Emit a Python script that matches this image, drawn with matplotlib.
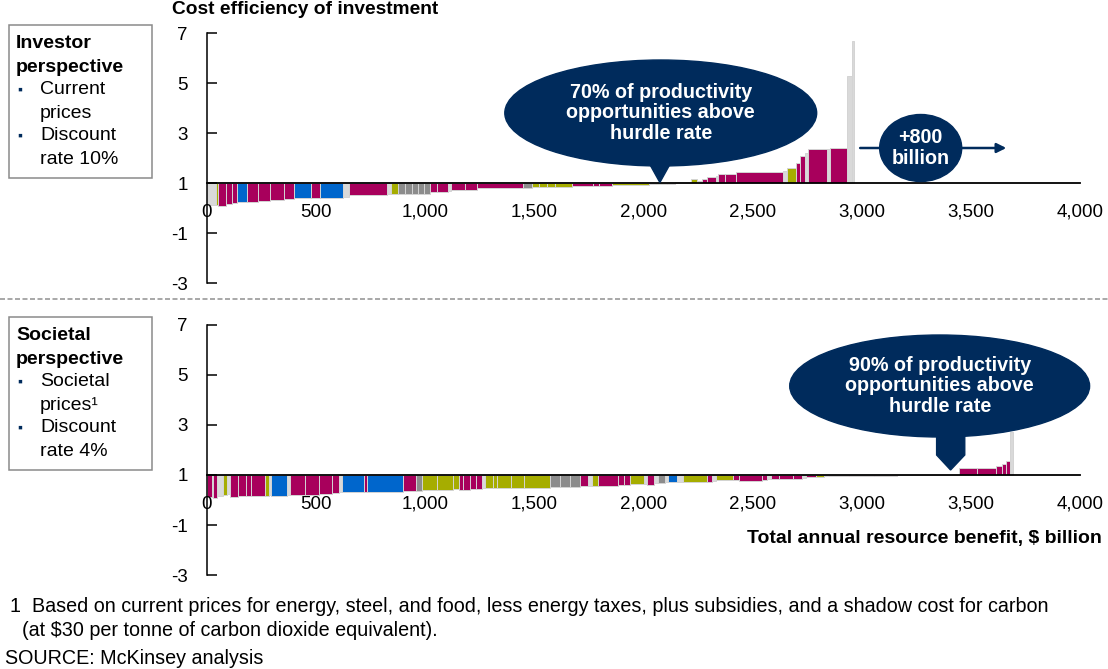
import numpy as np
import matplotlib
matplotlib.use("Agg")
import matplotlib.pyplot as plt
from matplotlib.patches import Ellipse, Polygon, Rectangle
from matplotlib.lines import Line2D

plt.rcParams['font.family'] = ['Liberation Sans', 'DejaVu Sans']

# colour codes: M magenta, B blue, O olive, G grey, L light grey, N none
COLS = {'M': '#A8005C', 'B': '#0066CC', 'O': '#A6AD00', 'G': '#8C8C8C',
        'L': '#D9D9D9', 'N': 'none'}

# ---- investor perspective ($ billion widths, cost efficiency values) ----
inv_width = [41, 9, 37, 27, 23, 46, 50, 55, 64, 46, 78, 41, 105, 27, 174, 18, 32,
             32, 32, 32, 27, 27, 32, 50, 14, 64, 55, 211, 41, 32, 37, 37, 78,
             96, 27, 60, 169, 32, 50, 37, 37, 37, 27, 23, 23, 41, 9, 32, 50,
             215, 18, 41, 18, 23, 14, 87, 14, 78, 23, 9]
inv_value = [0.12, 0.12, 0.10, 0.16, 0.20, 0.24, 0.24, 0.28, 0.32, 0.36, 0.40, 0.42,
             0.42, 0.45, 0.52, 0.55, 0.56, 0.56, 0.56, 0.56, 0.56, 0.56, 0.65, 0.65,
             0.70, 0.72, 0.72, 0.80, 0.80, 0.84, 0.84, 0.86, 0.86, 0.88, 0.88, 0.90,
             0.92, 0.95, 0.97, 0.98, 1.04, 1.06, 1.16, 1.10, 1.16, 1.25, 1.30, 1.37,
             1.37, 1.44, 1.50, 1.61, 1.81, 2.08, 2.20, 2.35, 2.38, 2.40, 5.3, 6.7]
inv_color = list("LOMMMBMMMMBMBLMLOGGGGGMMLMMMGOOOOMMMOMOMBOOLMMLMMMLOMMLMLMLL")

# ---- societal perspective ----
soc_width = [23, 5, 18, 27, 18, 14, 37, 37, 23, 64, 18, 9, 73, 14, 69, 64, 60, 32,
             14, 101, 14, 165, 60, 27, 69, 73, 27, 18, 32, 27, 27, 14, 37, 18, 64,
             60, 119, 46, 46, 46, 37, 18, 27, 92, 27, 27, 64, 14, 32, 18, 32, 14,
             41, 27, 110, 27, 18, 78, 27, 105, 23, 18, 37, 64, 41, 18, 46, 37, 23,
             92, 115, 105, 284, 82, 87, 27, 18, 18, 14]
soc_value = [0.13, 0.20, 0.08, 0.15, 0.20, 0.25, 0.10, 0.16, 0.16, 0.14, 0.14, 0.20,
             0.16, 0.20, 0.20, 0.20, 0.24, 0.28, 0.30, 0.33, 0.33, 0.33, 0.36, 0.36,
             0.40, 0.40, 0.42, 0.38, 0.40, 0.44, 0.44, 0.46, 0.48, 0.48, 0.48, 0.48,
             0.48, 0.52, 0.52, 0.52, 0.54, 0.56, 0.56, 0.56, 0.60, 0.60, 0.63, 0.62,
             0.60, 0.66, 0.69, 0.70, 0.70, 0.72, 0.70, 0.70, 0.75, 0.80, 0.78, 0.76,
             0.80, 0.82, 0.84, 0.84, 0.84, 0.86, 0.90, 0.93, 0.94, 0.95, 0.96, 0.97,
             1.00, 1.27, 1.27, 1.37, 1.44, 1.56, 2.7]
soc_color = list("MLMLOLMMMMOLBLMMMMLBMBMGOOOMMMMLOOOOOGGGMLOMMMOLMLGLBLOMLOMMMLMMMLMOLMMMNMMMMML")

x_ticks = [0, 500, 1000, 1500, 2000, 2500, 3000, 3500, 4000]
x_labels = ['0', '500', '1,000', '1,500', '2,000', '2,500', '3,000', '3,500', '4,000']
y_ticks = [-3, -1, 1, 3, 5, 7]

NAVY = '#002B5C'
W, H = 1108, 669


def px(x, y):
    return x / W, 1 - y / H


fig = plt.figure(figsize=(11.08, 6.69), dpi=100)
ax1 = fig.add_axes([207 / W, 1 - 283 / H, 873 / W, 250 / H])
ax2 = fig.add_axes([207 / W, 1 - 575 / H, 873 / W, 250 / H])


def draw_panel(ax, widths, values, colors):
    widths = np.array(widths, dtype=float)
    values = np.array(values)
    lefts = np.concatenate([[0], np.cumsum(widths)[:-1]])
    ax.bar(lefts, values - 1, width=widths, bottom=1, align='edge',
           color=[COLS[c] for c in colors], edgecolor='#D4D4D4', linewidth=0.7)
    ax.set_xlim(0, 4000)
    ax.set_ylim(-3, 7)
    ax.spines['top'].set_visible(False)
    ax.spines['right'].set_visible(False)
    ax.spines['bottom'].set_position(('data', 1))
    ax.spines['bottom'].set_linewidth(1.3)
    ax.spines['bottom'].set_zorder(5)
    ax.spines['left'].set_linewidth(1.1)
    ax.set_xticks(x_ticks)
    ax.set_xticklabels(x_labels)
    ax.set_yticks(y_ticks)
    ax.set_yticklabels([str(v) for v in y_ticks])
    ax.tick_params(axis='x', length=0, pad=15, labelsize=13.5)
    ax.tick_params(axis='y', direction='in', length=7, width=1.1, pad=14, labelsize=13.5)
    ax.patch.set_alpha(0)


draw_panel(ax1, inv_width, inv_value, inv_color)
draw_panel(ax2, soc_width, soc_value, soc_color)

BUB = dict(color='white', fontsize=14.2, fontweight='bold', ha='center', va='center',
           linespacing=1.12, zorder=7)

# ---- call-out bubbles (top) ----
ax1.add_patch(Ellipse((2079, 3.8), 1429, 4.24, color=NAVY, clip_on=False, zorder=6))
ax1.add_patch(Polygon([(2000, 2.2), (2150, 2.2), (2075, 1.02)], closed=True,
                      color=NAVY, clip_on=False, zorder=6))
ax1.text(2079, 3.8, "70% of productivity\nopportunities above\nhurdle rate", **BUB)
ax1.add_patch(Ellipse((3270, 2.4), 376, 2.68, color=NAVY, clip_on=False, zorder=6))
ax1.text(3270, 2.4, "+800\nbillion", **BUB)
ax1.annotate('', xy=(3675, 2.4), xytext=(2980, 2.4),
             arrowprops=dict(arrowstyle='-|>', color=NAVY, lw=1.8, mutation_scale=14),
             zorder=5)

# ---- call-out bubble (bottom) ----
ax2.add_patch(Ellipse((3357, 4.56), 1374, 4.08, color=NAVY, clip_on=False, zorder=6))
ax2.add_patch(Polygon([(3343, 3.0), (3472, 3.0), (3472, 1.8), (3407, 1.2), (3343, 1.8)],
                      closed=True, color=NAVY, clip_on=False, zorder=6))
ax2.text(3357, 4.56, "90% of productivity\nopportunities above\nhurdle rate", **BUB)

# ---- titles and labels ----
fig.text(*px(172, 9), "Cost efficiency of investment", fontsize=13.8, fontweight='bold',
         ha='left', va='center')
fig.text(*px(1102, 539), "Total annual resource benefit, $ billion", fontsize=14,
         fontweight='bold', ha='right', va='center')

# separator
fig.add_artist(Line2D([0, 1], [1 - 299 / H] * 2, color='#9A9A9A', lw=1.2,
                      linestyle=(0, (3, 1.5))))


def side_box(top, lines):
    fig.add_artist(Rectangle(px(9, top + 153), 143 / W, 153 / H, fill=False,
                             edgecolor='#8A8A8A', lw=1.1))
    y = top + 19
    for kind, txt in lines:
        if kind == 'h':
            fig.text(*px(16, y), txt, fontsize=14, fontweight='bold', va='center')
        else:
            if kind == 'b':
                fig.text(*px(17, y), '\u25aa', fontsize=10, color=NAVY, va='center')
            fig.text(*px(40, y), txt, fontsize=14, va='center')
        y += 23


side_box(25, [('h', 'Investor'), ('h', 'perspective'), ('b', 'Current'),
              ('t', 'prices'), ('b', 'Discount'), ('t', 'rate 10%')])
side_box(317, [('h', 'Societal'), ('h', 'perspective'), ('b', 'Societal'),
               ('t', 'prices\u00b9'), ('b', 'Discount'), ('t', 'rate 4%')])

# footnote
fig.text(*px(10, 606), "1  Based on current prices for energy, steel, and food, less energy taxes, "
         "plus subsidies, and a shadow cost for carbon", fontsize=14.2, va='center')
fig.text(*px(22, 630), "(at $30 per tonne of carbon dioxide equivalent).", fontsize=14.2,
         va='center')
fig.text(*px(5, 659), "SOURCE: McKinsey analysis", fontsize=14.2, va='center')

fig.savefig("out.png", dpi=100)
